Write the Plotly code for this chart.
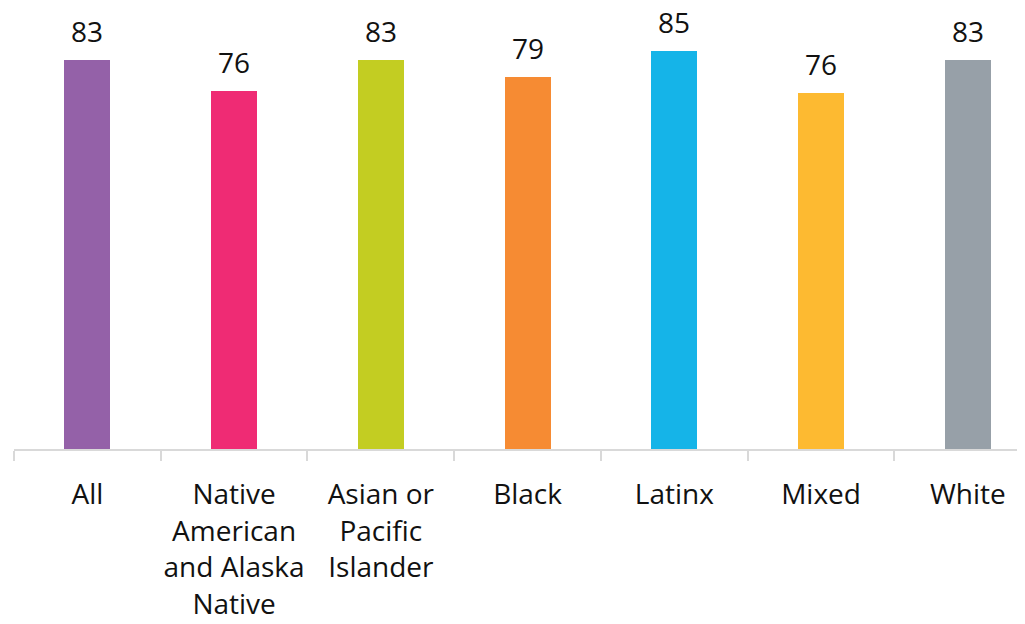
import plotly.graph_objects as go

categories = ["All", "Native<br>American<br>and Alaska<br>Native", "Asian or<br>Pacific<br>Islander",
              "Black", "Latinx", "Mixed", "White"]
values = [83.0, 76.4, 83.0, 79.4, 85.0, 76.1, 83.0]
colors = ["#9461A8", "#EF2B74", "#C3CD22", "#F68B33", "#15B4E8", "#FDBA31", "#97A0A8"]

FONT = "Open Sans"
TXT = "#111111"

fig = go.Figure(go.Bar(
    x=categories, y=values, marker_color=colors, marker_line_width=0,
    width=0.313, hoverinfo="x+y",
))

for c, v in zip(categories, values):
    fig.add_annotation(x=c, y=v, text=f"{v:.0f}", showarrow=False,
                       yanchor="bottom", yshift=8,
                       font=dict(family=FONT, size=28, color=TXT))

fig.update_layout(
    width=1017, height=616,
    margin=dict(l=6, r=0, t=0, b=175),
    paper_bgcolor="white", plot_bgcolor="white",
    showlegend=False,
    bargap=0,
    font=dict(family=FONT, size=28, color=TXT),
)
fig.update_xaxes(
    range=[-0.5, 6.39], showline=True, linecolor="#d9d9d9", linewidth=1.5,
    ticks="outside", tickson="boundaries", ticklen=10, tickcolor="#d9d9d9", tickwidth=1.5,
    tickfont=dict(family=FONT, size=28, color=TXT),
    tickangle=0, automargin=False,
    ticklabelstandoff=20,
    showgrid=False,
)
fig.update_yaxes(range=[0, 94.2], visible=False, showgrid=False)

fig.write_html("out.html")
